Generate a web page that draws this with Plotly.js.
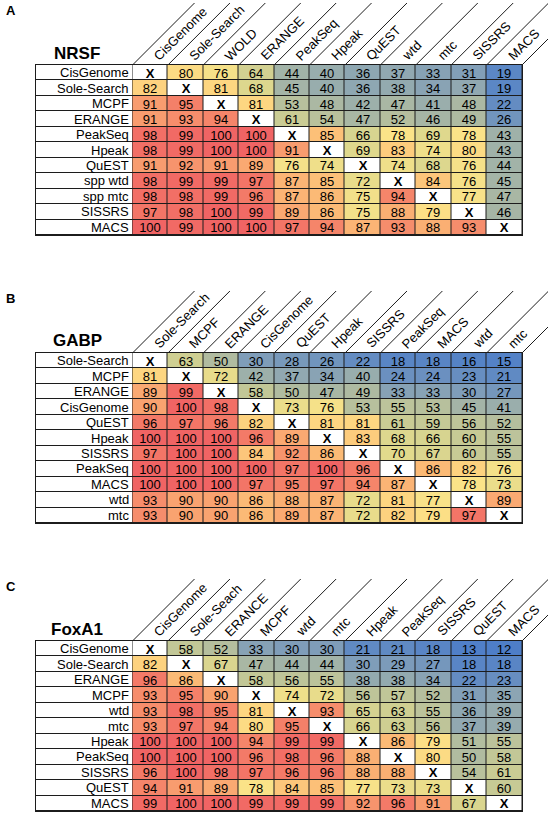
<!DOCTYPE html>
<html>
<head>
<meta charset="utf-8">
<script src="https://cdn.plot.ly/plotly-3.0.1.min.js"></script>
<style>
html,body{margin:0;padding:0;background:#fff;}
#chart{width:548px;height:814px;}
</style>
</head>
<body>
<div id="chart"></div>
<script>
// ---------- DATA ----------
const titleA = "NRSF";
const rowsA = ["CisGenome","Sole-Search","MCPF","ERANGE","PeakSeq","Hpeak","QuEST","spp wtd","spp mtc","SISSRS","MACS"];
const colsA = ["CisGenome","Sole-Search","WOLD","ERANGE","PeakSeq","Hpeak","QuEST","wtd","mtc","SISSRS","MACS"];
const valsA = [
  [null,80,76,64,44,40,36,37,33,31,19],
  [82,null,81,68,45,40,36,38,34,37,19],
  [91,95,null,81,53,48,42,47,41,48,22],
  [91,93,94,null,61,54,47,52,46,49,26],
  [98,99,100,100,null,85,66,78,69,78,43],
  [98,99,100,100,91,null,69,83,74,80,43],
  [91,92,91,89,76,74,null,74,68,76,44],
  [98,99,99,97,87,85,72,null,84,76,45],
  [98,98,99,96,87,86,75,94,null,77,47],
  [97,98,100,99,89,86,75,88,79,null,46],
  [100,99,100,100,97,94,87,93,88,93,null]
];

const titleB = "GABP";
const rowsB = ["Sole-Search","MCPF","ERANGE","CisGenome","QuEST","Hpeak","SISSRS","PeakSeq","MACS","wtd","mtc"];
const colsB = ["Sole-Search","MCPF","ERANGE","CisGenome","QuEST","Hpeak","SISSRS","PeakSeq","MACS","wtd","mtc"];
const valsB = [
  [null,63,50,30,28,26,22,18,18,16,15],
  [81,null,72,42,37,34,40,24,24,23,21],
  [89,99,null,58,50,47,49,33,33,30,27],
  [90,100,98,null,73,76,53,55,53,45,41],
  [96,97,96,82,null,81,81,61,59,56,52],
  [100,100,100,96,89,null,83,68,66,60,55],
  [97,100,100,84,92,86,null,70,67,60,55],
  [100,100,100,100,97,100,96,null,86,82,76],
  [100,100,100,97,95,97,94,87,null,78,73],
  [93,90,90,86,88,87,72,81,77,null,89],
  [93,90,90,86,89,87,72,82,79,97,null]
];

const titleC = "FoxA1";
const rowsC = ["CisGenome","Sole-Search","ERANGE","MCPF","wtd","mtc","Hpeak","PeakSeq","SISSRS","QuEST","MACS"];
const colsC = ["CisGenome","Sole-Seach","ERANCE","MCPF","wtd","mtc","Hpeak","PeakSeq","SISSRS","QuEST","MACS"];
const valsC = [
  [null,58,52,33,30,30,21,21,18,13,12],
  [82,null,67,47,44,44,30,29,27,18,18],
  [96,86,null,58,56,55,38,38,34,22,23],
  [93,95,90,null,74,72,56,57,52,31,35],
  [93,98,95,81,null,93,65,63,55,36,39],
  [93,97,94,80,95,null,66,63,56,37,39],
  [100,100,100,94,99,99,null,86,79,51,55],
  [100,100,100,96,98,96,88,null,80,50,58],
  [96,100,98,97,96,96,88,88,null,54,61],
  [94,91,89,78,84,85,77,73,73,null,60],
  [99,100,100,99,99,99,92,96,91,67,null]
];

const panelLetters = ["A","B","C"];

// ---------- STYLE / LAYOUT ----------
const W = 548, H = 814;
const FONT = "Arial, 'Liberation Sans', sans-serif";
const zmin = 10, zmax = 100;
const cs = [
  [10,"#4a7bc9"],[20,"#5d88c4"],[30,"#7f9db9"],[40,"#98adad"],[50,"#b0bba0"],
  [60,"#c7ca95"],[70,"#e2da8c"],[78,"#fbe388"],[82,"#fdd27f"],[86,"#fbba76"],
  [90,"#f9a370"],[94,"#f5856a"],[100,"#f06464"]
].map(([v,c]) => [(v - zmin) / (zmax - zmin), c]);

const tableLeft = 36, dataLeft = 132.5, tableRight = 522;
const colW = (tableRight - dataLeft) / 11;
const labelW = (dataLeft - tableLeft) / colW;
const tops = [65, 353, 641];
const tableH = 170;
const rowH = tableH / 11;
const ex = 1 / colW, ey = 1 / rowH;
const lineLen = 62;

const panels = [
  {title: titleA, rows: rowsA, cols: colsA, vals: valsA},
  {title: titleB, rows: rowsB, cols: colsB, vals: valsB},
  {title: titleC, rows: rowsC, cols: colsC, vals: valsC}
];

const data = [], annotations = [], shapes = [];
const layout = {
  width: W, height: H,
  margin: {l:0, r:0, t:0, b:0},
  paper_bgcolor: "#ffffff",
  plot_bgcolor: "#1c1c1c",
  showlegend: false,
  font: {family: FONT, size: 13, color: "#000"},
  annotations, shapes
};

panels.forEach((p, k) => {
  const s = k === 0 ? "" : String(k + 1);
  const xa = "x" + s, ya = "y" + s;
  const top = tops[k];
  const xr = [-labelW - ex, 11 + ex];
  const yr = [10.5 + ey, -0.5 - ey];
  layout["xaxis" + s] = {
    domain: [(tableLeft - 1) / W, (tableRight + 1) / W], range: xr,
    visible: false, showgrid: false, zeroline: false, fixedrange: true, anchor: ya
  };
  layout["yaxis" + s] = {
    domain: [1 - (top + tableH + 1) / H, 1 - (top - 1) / H], range: yr,
    visible: false, showgrid: false, zeroline: false, fixedrange: true, anchor: xa
  };
  const yIdx = p.rows.map((_, i) => i);
  // label column (white boxes)
  data.push({
    type: "heatmap", xaxis: xa, yaxis: ya,
    x: [-labelW, 0], y: yIdx, z: p.rows.map(() => [0]),
    zmin: 0, zmax: 1, colorscale: [[0,"#fff"],[1,"#fff"]], showscale: false,
    xgap: 1, ygap: 1, hoverinfo: "skip"
  });
  // values
  data.push({
    type: "heatmap", xaxis: xa, yaxis: ya,
    x: p.cols.map((_, i) => i + 0.5), y: yIdx, z: p.vals,
    text: p.vals.map(r => r.map(v => v == null ? "" : String(v))),
    texttemplate: "%{text}",
    textfont: {family: FONT, size: 13, color: "#000"},
    zmin, zmax, colorscale: cs, showscale: false,
    xgap: 1, ygap: 1, hoverinfo: "skip"
  });
  // diagonal X cells
  data.push({
    type: "heatmap", xaxis: xa, yaxis: ya,
    x: p.cols.map((_, i) => i + 0.5), y: yIdx,
    z: p.vals.map(r => r.map(v => v == null ? 1 : null)),
    text: p.vals.map(r => r.map(v => v == null ? "X" : "")),
    texttemplate: "<b>%{text}</b>",
    textfont: {family: FONT, size: 13, color: "#000"},
    zmin: 0, zmax: 1, colorscale: [[0,"#fff"],[1,"#fff"]], showscale: false,
    xgap: 1, ygap: 1, hoverinfo: "skip"
  });
  // row labels
  p.rows.forEach((r, i) => {
    annotations.push({
      xref: xa, yref: ya, x: 0, y: i, xanchor: "right", yanchor: "middle",
      xshift: -2, text: r, showarrow: false,
      font: {family: FONT, size: 13, color: "#000"}
    });
  });
  // column headers
  p.cols.forEach((c, i) => {
    annotations.push({
      xref: xa, yref: ya, x: i + 0.5, y: -0.5 - ey, xanchor: "left", yanchor: "bottom",
      xshift: -2, yshift: -2, textangle: -45, text: c, showarrow: false,
      font: {family: FONT, size: 13, color: "#000"}
    });
  });
  // diagonal header lines
  for (let b = 0; b <= 11; b++) {
    const px = dataLeft + b * colW;
    shapes.push({
      type: "line", xref: "paper", yref: "paper",
      x0: px / W, y0: 1 - top / H, x1: (px + lineLen) / W, y1: 1 - (top - lineLen) / H,
      line: {color: "#1c1c1c", width: 1}
    });
  }
  // title
  annotations.push({
    xref: "paper", yref: "paper", x: 77 / W, y: 1 - (top - 12) / H,
    xanchor: "center", yanchor: "middle", text: "<b>" + p.title + "</b>",
    showarrow: false, font: {family: FONT, size: 17, color: "#000"}
  });
  // panel letter
  annotations.push({
    xref: "paper", yref: "paper", x: 4 / W, y: 1 - (top - 55) / H,
    xanchor: "left", yanchor: "middle", text: "<b>" + panelLetters[k] + "</b>",
    showarrow: false, font: {family: FONT, size: 13, color: "#000"}
  });
});

Plotly.newPlot("chart", data, layout, {staticPlot: true, displayModeBar: false});
</script>
</body>
</html>
